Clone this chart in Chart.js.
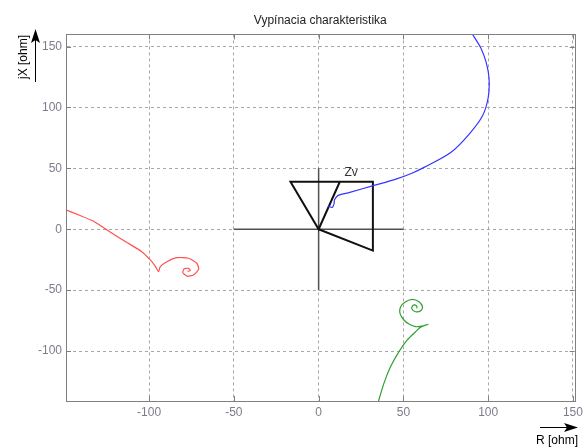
<!DOCTYPE html>
<html>
<head>
<meta charset="utf-8">
<script src="https://cdn.jsdelivr.net/npm/chart.js@4.4.0/dist/chart.umd.min.js"></script>
<style>
  body { margin: 0; background: #fff; }
  #wrap { width: 587px; height: 448px; }
</style>
</head>
<body>
<div id="wrap"><canvas id="myChart" width="587" height="448"></canvas></div>
<script>
// axis ranges and ticks
let xRange = [-149, 151];
let yRange = [-141, 160];
let xTicks = [-100, -50, 0, 50, 100, 150];
let yTicks = [-100, -50, 0, 50, 100, 150];

// blue trajectory
let blueX = [5.5, 8.1, 9.1, 9.4, 11.5, 18.4, 32.2, 46, 55, 62.2, 77.9, 88.7, 96.6, 100, 100.5, 98.6, 95.6, 91.7, 89.5];
let blueY = [19.2, 18, 21, 24.2, 27.8, 30.3, 35.8, 41.4, 46, 50.8, 63, 78, 93, 108, 124, 138, 149, 158, 163];

// red trajectory
let redX = [-152, -141, -133, -127, -119, -111, -104.3, -99.3, -96.4, -94.4, -93.4, -89.5, -83.6, -76.7, -71.8, -70.8, -73.8, -77.7, -80.1, -79.3, -76.7, -75.7, -77.3];
let redY = [17.5, 11.5, 6.8, 1.5, -5.8, -12.6, -18.4, -25.2, -30.2, -34.8, -30.7, -26.6, -23.3, -23.8, -27.9, -32.9, -37.5, -38.4, -35.6, -32.4, -32.1, -34, -34.6];

// green trajectory
let greenX = [34.5, 38.5, 42.4, 47.4, 52.3, 57.2, 60.2, 64.5, 61.2, 57.2, 53.3, 50.3, 48, 48.4, 51.3, 55.3, 59.2, 61.2, 60.2, 57.2, 54.9, 55.9, 57.8, 58];
let greenY = [-145, -126.5, -112.9, -100.5, -90.9, -84.1, -80.5, -78.1, -79.4, -80, -77.8, -74.5, -69, -63.6, -59.5, -57.5, -59.5, -63.6, -66.9, -67.7, -64.9, -62.2, -63, -65];

// tripping characteristic (black polygon)
let zoneX = [12.5, 0, -16.6, 32, 32, 0];
let zoneY = [39, 0, 39, 39, -17.5, 0];

// R / X axes cross
let crossHX = [-50, 50];
let crossHY = [0, 0];
let crossVX = [0, 0];
let crossVY = [-50, 50];

let zvLabel = { text: "Zv", x: 19.2, y: 46.5 };

function pts(xs, ys) {
  return xs.map((v, i) => ({ x: v, y: ys[i] }));
}

function line(xs, ys, color, width, tension) {
  return {
    data: pts(xs, ys),
    showLine: true,
    borderColor: color,
    borderWidth: width,
    pointRadius: 0,
    tension: tension,
    fill: false
  };
}

const extras = {
  id: "extras",
  afterDraw(chart) {
    const ctx = chart.ctx;
    const a = chart.chartArea;
    const x = chart.scales.x;
    const y = chart.scales.y;
    ctx.save();

    // box around plot
    ctx.strokeStyle = "#808080";
    ctx.lineWidth = 1;
    ctx.setLineDash([]);
    ctx.strokeRect(Math.round(a.left) + 0.5, Math.round(a.top) + 0.5,
      Math.round(a.right - a.left), Math.round(a.bottom - a.top));

    // inside tick marks
    ctx.beginPath();
    x.ticks.forEach(t => {
      let px = Math.round(x.getPixelForValue(t.value)) + 0.5;
      ctx.moveTo(px, a.bottom); ctx.lineTo(px, a.bottom - 5);
      ctx.moveTo(px, a.top); ctx.lineTo(px, a.top + 5);
    });
    y.ticks.forEach(t => {
      let py = Math.round(y.getPixelForValue(t.value)) + 0.5;
      ctx.moveTo(a.left, py); ctx.lineTo(a.left + 5, py);
      ctx.moveTo(a.right, py); ctx.lineTo(a.right - 5, py);
    });
    ctx.stroke();

    // Zv label
    ctx.fillStyle = "#333";
    ctx.font = "12px 'Liberation Sans', Arial, sans-serif";
    ctx.textAlign = "center";
    ctx.textBaseline = "middle";
    ctx.fillText(zvLabel.text, x.getPixelForValue(zvLabel.x), y.getPixelForValue(zvLabel.y));

    // y axis label with arrow
    ctx.fillStyle = "#000";
    ctx.strokeStyle = "#000";
    ctx.save();
    ctx.translate(24, 57);
    ctx.rotate(-Math.PI / 2);
    ctx.fillText("jX [ohm]", 0, 0);
    ctx.restore();
    ctx.lineWidth = 1;
    ctx.beginPath();
    ctx.moveTo(35.5, 82); ctx.lineTo(35.5, 38);
    ctx.stroke();
    ctx.beginPath();
    ctx.moveTo(35.5, 29); ctx.lineTo(31, 43); ctx.lineTo(35.5, 40); ctx.lineTo(40, 43);
    ctx.closePath();
    ctx.fill();

    // x axis label with arrow
    ctx.fillText("R [ohm]", 557, 441);
    ctx.beginPath();
    ctx.moveTo(540, 427.5); ctx.lineTo(569, 427.5);
    ctx.stroke();
    ctx.beginPath();
    ctx.moveTo(578, 427.5); ctx.lineTo(564, 423); ctx.lineTo(567, 427.5); ctx.lineTo(564, 432);
    ctx.closePath();
    ctx.fill();

    ctx.restore();
  }
};

const tickFont = { family: "'Liberation Sans', Arial, sans-serif", size: 12 };

new Chart(document.getElementById("myChart"), {
  type: "scatter",
  data: {
    datasets: [
      line(blueX, blueY, "#3535ff", 1.2, 0.3),
      line(redX, redY, "#ff5050", 1.2, 0.2),
      line(greenX, greenY, "#30a030", 1.2, 0.3),
      line(zoneX, zoneY, "#111111", 2, 0),
      line(crossHX, crossHY, "#505050", 1.5, 0),
      line(crossVX, crossVY, "#505050", 1.5, 0)
    ]
  },
  options: {
    responsive: false,
    animation: false,
    layout: { padding: { left: 0, right: 12, top: 0, bottom: 0 } },
    plugins: {
      legend: { display: false },
      tooltip: { enabled: false },
      title: {
        display: true,
        text: "Vypínacia charakteristika",
        fullSize: false,
        color: "#222",
        font: { family: "'Liberation Sans', Arial, sans-serif", size: 12, weight: "normal" },
        padding: { top: 13, bottom: 7 }
      }
    },
    scales: {
      x: {
        type: "linear",
        min: xRange[0],
        max: xRange[1],
        afterFit: s => { s.height = 47; },
        afterBuildTicks: s => { s.ticks = xTicks.map(v => ({ value: v })); },
        ticks: { color: "#7c7c8c", font: tickFont, padding: 4, maxRotation: 0 },
        grid: { color: "#a8a8a8", drawTicks: false, lineWidth: 1 },
        border: { color: "#808080", dash: [3, 3] }
      },
      y: {
        type: "linear",
        min: yRange[0],
        max: yRange[1],
        afterFit: s => { s.width = 66; },
        afterBuildTicks: s => { s.ticks = yTicks.map(v => ({ value: v })); },
        ticks: { color: "#7c7c8c", font: tickFont, padding: 4 },
        grid: { color: "#a8a8a8", drawTicks: false, lineWidth: 1 },
        border: { color: "#808080", dash: [3, 3] }
      }
    }
  },
  plugins: [extras]
});
</script>
</body>
</html>
